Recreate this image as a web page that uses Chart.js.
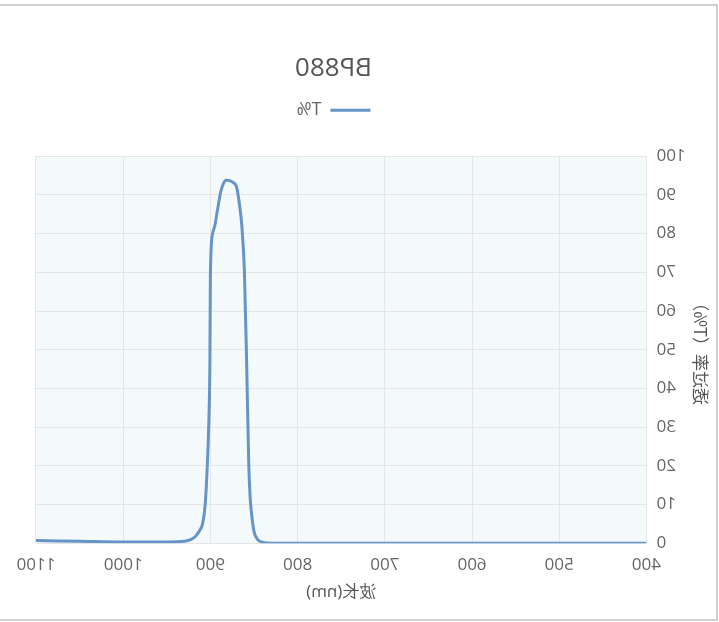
<!DOCTYPE html>
<html lang="zh">
<head>
<meta charset="UTF-8">
<title>BP880</title>
<script src="https://cdn.jsdelivr.net/npm/chart.js"></script>
<style>
    html, body { margin: 0; padding: 0; background: #fff; }
    .frame {
        position: absolute; left: 0; top: 4px; width: 718px; height: 617px;
        box-sizing: border-box; border: 2px solid #cfcfcf; border-left: none;
    }
    .wrap {
        position: absolute; left: 0; top: 0; width: 719px; height: 622px;
        transform: scaleX(-1);
    }
</style>
</head>
<body>
<div class="frame"></div>
<div class="wrap"><canvas id="chart"></canvas></div>
<script>
    // wavelength (nm) and transmittance (%)
    const wavelengths = [400, 500, 600, 700, 800, 830, 840, 846, 850, 853, 854.5, 856, 858.5, 861, 864, 867, 870, 874, 878, 882, 885, 888, 892, 895, 897.5, 900, 900.6, 902, 903.6, 906, 909, 912, 917, 922, 930, 950, 1000, 1050, 1100];
    const transmittance = [0, 0, 0, 0, 0, 0, 0.2, 1, 3, 8, 12, 20, 47, 70, 82, 88, 92, 93.2, 93.7, 93.8, 93, 91, 86, 82, 80, 70, 47, 30, 20, 10, 5, 3.4, 1.8, 1, 0.5, 0.3, 0.3, 0.5, 0.7];
    const xTicks = [400, 500, 600, 700, 800, 900, 1000, 1100];

    const points = wavelengths.map((w, i) => ({ x: w, y: transmittance[i] }));

    const plotBg = {
        id: 'plotBg',
        beforeDraw(chart) {
            const a = chart.chartArea, c = chart.ctx;
            c.save();
            c.fillStyle = '#f4f9fc';
            c.fillRect(a.left, a.top, a.right - a.left, a.bottom - a.top);
            c.restore();
        }
    };

    // extra space under the legend, and title/legend centred further right
    const headerShift = {
        id: 'headerShift',
        afterInit(chart) {
            const lg = chart.legend;
            const fit = lg.fit;
            lg.fit = function () { fit.call(this); this.height += 27; };
        },
        afterLayout(chart) {
            [chart.titleBlock, chart.legend].forEach(b => { b.left += 41; b.right += 41; });
        }
    };

    new Chart(document.getElementById('chart'), {
        type: 'line',
        data: {
            datasets: [{
                label: 'T%',
                data: points,
                borderColor: '#6495c6',
                backgroundColor: '#6495c6',
                borderWidth: 3,
                pointRadius: 0,
                pointStyle: 'line',
                cubicInterpolationMode: 'monotone'
            }]
        },
        options: {
            responsive: true,
            maintainAspectRatio: false,
            animation: false,
            layout: { padding: { top: 53, right: 36, bottom: 16, left: 6 } },
            plugins: {
                title: {
                    display: true, text: 'BP880', color: '#555',
                    font: { family: 'Open Sans', size: 26, weight: 'normal' },
                    padding: { top: 0, bottom: 9 }
                },
                legend: {
                    labels: {
                        color: '#666', usePointStyle: true, pointStyle: 'line', pointStyleWidth: 40,
                        boxHeight: 3, font: { family: 'Open Sans', size: 18 }, padding: 8
                    }
                },
                tooltip: { enabled: false }
            },
            scales: {
                x: {
                    type: 'linear', min: 400, max: 1100,
                    afterBuildTicks: s => { s.ticks = xTicks.map(v => ({ value: v })); },
                    grid: { color: '#e6e6e6', drawTicks: false },
                    border: { display: false },
                    ticks: { color: '#666', padding: 12, font: { family: 'Open Sans', size: 17 }, callback: v => String(v) },
                    title: { display: true, text: '波长(nm)', color: '#555', padding: { top: -6, bottom: 4 }, font: { family: 'Open Sans', size: 17 } }
                },
                y: {
                    min: 0, max: 100,
                    ticks: { stepSize: 10, color: '#666', padding: 10, font: { family: 'Open Sans', size: 17 } },
                    grid: { color: '#e6e6e6', drawTicks: false },
                    border: { display: false },
                    title: { display: true, text: '透过率（T%）', color: '#555', padding: { top: 2, bottom: -5 }, font: { family: 'Noto Sans CJK SC', size: 17 } }
                }
            }
        },
        plugins: [plotBg, headerShift]
    });
</script>
</body>
</html>
